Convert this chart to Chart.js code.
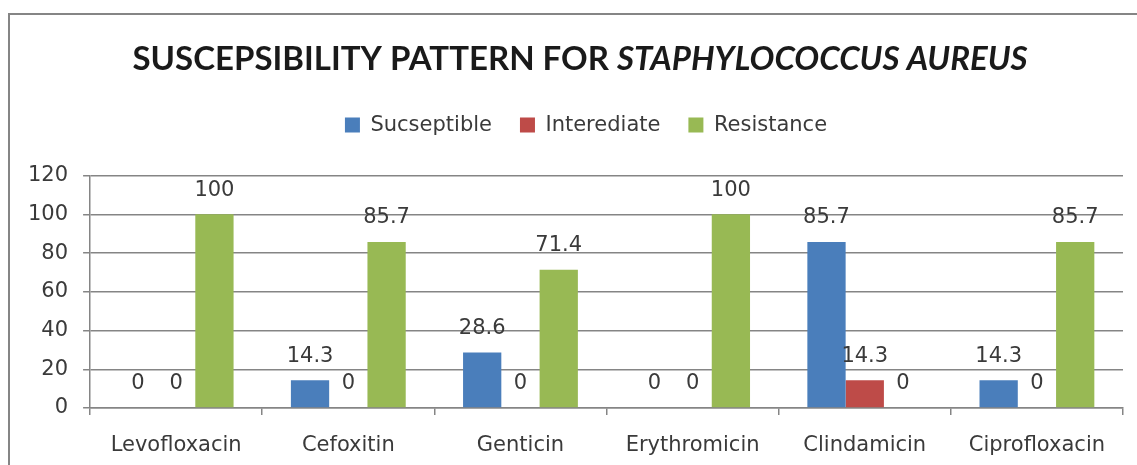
<!DOCTYPE html>
<html><head><meta charset="utf-8">
<script src="https://cdn.jsdelivr.net/npm/chart.js@4.4.1/dist/chart.umd.min.js"></script>
<style>html,body{margin:0;padding:0;background:#fff;}#wrap{width:1137px;height:465px;position:relative;}</style>
</head><body><div id="wrap"><canvas id="c" width="1137" height="465"></canvas></div>
<script>
const categories = ['Levofloxacin','Cefoxitin','Genticin','Erythromicin','Clindamicin','Ciprofloxacin'];
const susceptible = [0, 14.3, 28.6, 0, 85.7, 14.3];
const intermediate = [0, 0, 0, 0, 14.3, 0];
const resistance = [100, 85.7, 71.4, 100, 0, 85.7];
const seriesNames = ['Sucseptible','Interediate','Resistance'];
const titlePlain = 'SUSCEPSIBILITY PATTERN FOR ';
const titleItalic = 'STAPHYLOCOCCUS AUREUS';

const FONT = "'DejaVu Sans', Verdana, sans-serif";
const TXT = '#3a3a3a';
const FS = 21;

const frame = {
  id:'frame',
  beforeDraw(chart){
    const ctx = chart.ctx;
    ctx.save();
    ctx.fillStyle = '#fff';
    ctx.fillRect(0,0,chart.width,chart.height);
    ctx.strokeStyle = '#858585';
    ctx.lineWidth = 2;
    ctx.beginPath();
    ctx.moveTo(9, chart.height);
    ctx.lineTo(9, 14);
    ctx.lineTo(chart.width, 14);
    ctx.stroke();
    ctx.restore();
  }
};

const legendSpace = {
  id:'legendSpace',
  beforeLayout(chart){
    const lg = chart.legend;
    if(lg && !lg._patched){
      const fit = lg.fit;
      lg.fit = function(){ fit.call(this); this.height = 89; };
      lg._patched = true;
    }
  },
  afterLayout(chart){
    const lg = chart.legend;
    if(lg){ lg.left += 18; lg.right += 18; }
  }
};

const mixedTitle = {
  id:'mixedTitle',
  afterDraw(chart){
    const t = chart.titleBlock;
    if(!t) return;
    const ctx = chart.ctx;
    ctx.save();
    const cy = t.top + t.options.padding.top + (t.options.font.size*1.2)/2;
    const f1 = "bold 33px Lato, 'Open Sans', sans-serif";
    const f2 = "italic bold 33px Lato, 'Open Sans', sans-serif";
    ctx.font = f1; const w1 = ctx.measureText(titlePlain).width;
    ctx.font = f2; const w2 = ctx.measureText(titleItalic).width;
    let x = 580 - (w1+w2)/2;
    ctx.textBaseline = 'middle';
    ctx.fillStyle = '#1a1a1a';
    ctx.font = f1; ctx.fillText(titlePlain, x, cy);
    ctx.font = f2; ctx.fillText(titleItalic, x + w1, cy);
    ctx.restore();
  }
};

const valueLabels = {
  id:'valueLabels',
  afterDatasetsDraw(chart){
    const ctx = chart.ctx;
    ctx.save();
    ctx.font = FS + "px " + FONT;
    ctx.fillStyle = TXT;
    ctx.textAlign = 'center';
    ctx.textBaseline = 'middle';
    chart.data.datasets.forEach((ds,i)=>{
      const meta = chart.getDatasetMeta(i);
      meta.data.forEach((bar,j)=>{
        ctx.fillText(String(ds.data[j]), bar.x, bar.y - 24);
      });
    });
    ctx.restore();
  }
};

new Chart(document.getElementById('c'), {
  type:'bar',
  data:{
    labels: categories,
    datasets:[
      {label: seriesNames[0], data: susceptible, backgroundColor:'#4A7EBB'},
      {label: seriesNames[1], data: intermediate, backgroundColor:'#BE4B48'},
      {label: seriesNames[2], data: resistance, backgroundColor:'#98B954'}
    ]
  },
  options:{
    responsive:false,
    animation:false,
    layout:{padding:{left:13, right:14, top:0, bottom:0}},
    datasets:{bar:{barPercentage:1.0, categoryPercentage:0.667}},
    plugins:{
      title:{display:true, text: titlePlain + titleItalic, color:'rgba(0,0,0,0)',
        font:{size:33, weight:'bold', family:"Lato, sans-serif"}, padding:{top:40, bottom:7}},
      legend:{position:'top', labels:{boxWidth:15, boxHeight:15, padding:28, color:TXT,
        font:{size:FS, family:FONT}}},
      tooltip:{enabled:false}
    },
    scales:{
      x:{
        afterFit(scale){ scale.height = 57; },
        grid:{display:true, drawOnChartArea:false, drawTicks:true, tickLength:7, color:'#858585', lineWidth:1.5, offset:true},
        border:{display:true, color:'#858585', width:1.5},
        ticks:{color:TXT, font:{size:FS, family:FONT}, padding:18, maxRotation:0}
      },
      y:{
        min:0, max:120,
        ticks:{stepSize:20, color:TXT, font:{size:FS, family:FONT}, padding:15},
        grid:{color:'#858585', lineWidth:1.5, tickLength:7},
        border:{display:true, color:'#858585', width:1.5}
      }
    }
  },
  plugins:[frame, legendSpace, mixedTitle, valueLabels]
});
</script></body></html>
